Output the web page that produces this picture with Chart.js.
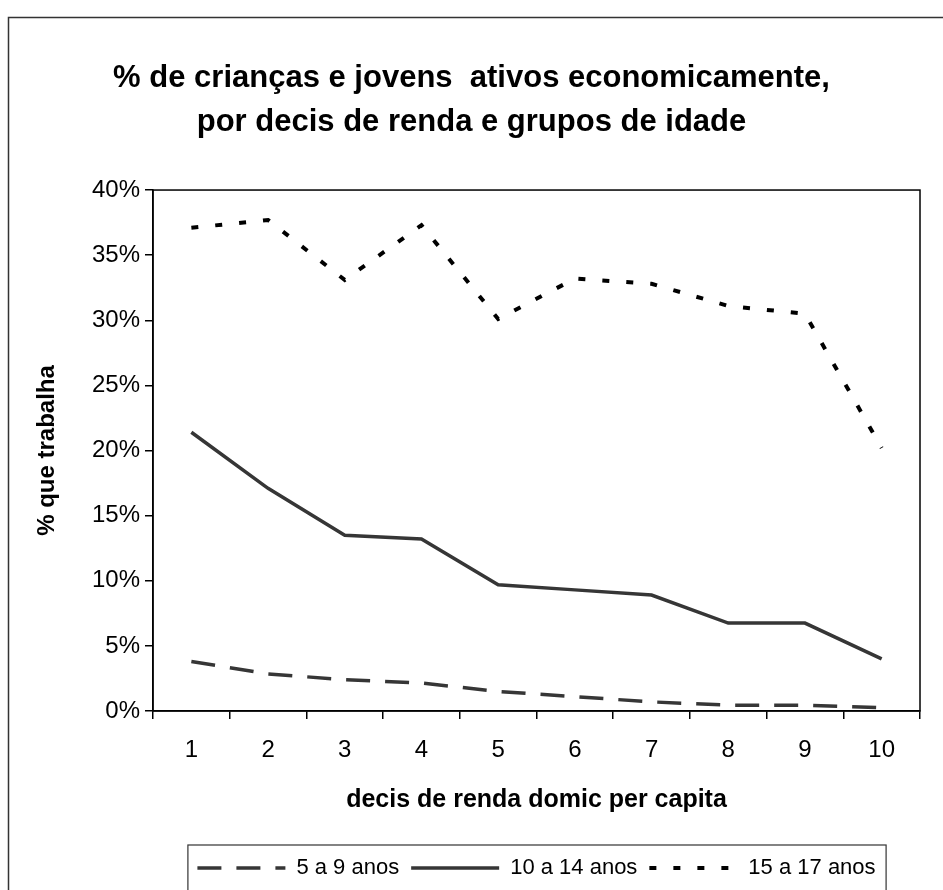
<!DOCTYPE html>
<html lang="pt">
<head>
    <meta charset="UTF-8">
    <title>Crianças e jovens ativos economicamente</title>
    <script src="https://cdn.jsdelivr.net/npm/chart.js"></script>
    <style>
        body { margin: 0; background: #fff; }
        #wrap { position: relative; width: 943px; height: 890px; }
    </style>
</head>
<body>
    <div id="wrap"><canvas id="grafico"></canvas></div>

    <script>
        // decis de renda domiciliar per capita
        const decis = ['1', '2', '3', '4', '5', '6', '7', '8', '9', '10'];

        // % que trabalha, por grupo de idade
        const idade5a9 = [3.8, 2.85, 2.4, 2.15, 1.5, 1.1, 0.7, 0.45, 0.45, 0.25];
        const idade10a14 = [21.4, 17.1, 13.5, 13.2, 9.7, 9.3, 8.9, 6.75, 6.75, 4.0];
        const idade15a17 = [37.1, 37.7, 33.1, 37.3, 30.1, 33.2, 32.8, 31.1, 30.5, 20.2];

        const FONTE = "'Liberation Sans', Arial, sans-serif";

        // moldura externa, caixa da área de plotagem e caixa da legenda
        const molduras = {
            id: 'molduras',
            beforeDraw(chart) {
                const ctx = chart.ctx;
                ctx.save();
                ctx.strokeStyle = '#333';
                ctx.lineWidth = 1.5;
                ctx.beginPath();
                ctx.moveTo(8.5, chart.height);
                ctx.lineTo(8.5, 17.5);
                ctx.lineTo(chart.width, 17.5);
                ctx.stroke();
                ctx.restore();
            },
            afterDraw(chart) {
                const ctx = chart.ctx;
                const a = chart.chartArea;
                ctx.save();
                ctx.strokeStyle = '#000';
                ctx.lineWidth = 1.5;
                ctx.strokeRect(a.left, a.top, a.right - a.left, a.bottom - a.top);

                const hb = chart.legend.legendHitBoxes;
                if (hb && hb.length) {
                    const first = hb[0];
                    const last = hb[hb.length - 1];
                    const cy = first.top + first.height / 2;
                    ctx.strokeStyle = '#333';
                    ctx.lineWidth = 1.2;
                    ctx.strokeRect(first.left - 9.5, cy - 23, last.left + last.width - first.left + 20, 46);
                }
                ctx.restore();
            }
        };

        // amostras da legenda com o mesmo tracejado das séries
        function rotulosLegenda(chart) {
            const itens = Chart.defaults.plugins.legend.labels.generateLabels(chart);
            return itens.map((item) => {
                const ds = chart.data.datasets[item.datasetIndex];
                item.lineDash = ds.borderDash || [];
                item.lineWidth = ds.borderWidth;
                item.strokeStyle = ds.borderColor;
                item.lineCap = 'butt';
                return item;
            });
        }

        const ctx = document.getElementById('grafico').getContext('2d');
        new Chart(ctx, {
            type: 'line',
            data: {
                labels: decis,
                datasets: [
                    {
                        label: '5 a 9 anos',
                        data: idade5a9,
                        borderColor: '#363636',
                        borderWidth: 3.5,
                        borderDash: [24, 15],
                    },
                    {
                        label: '10 a 14 anos',
                        data: idade10a14,
                        borderColor: '#363636',
                        borderWidth: 3.5,
                    },
                    {
                        label: '15 a 17 anos',
                        data: idade15a17,
                        borderColor: '#000',
                        borderWidth: 4,
                        borderDash: [7, 17],
                    }
                ]
            },
            options: {
                responsive: true,
                maintainAspectRatio: false,
                animation: false,
                layout: { padding: { top: 0, left: 0, right: 0, bottom: 1 } },
                elements: {
                    point: { radius: 0, hoverRadius: 0 },
                    line: { tension: 0, borderCapStyle: 'butt', fill: false }
                },
                scales: {
                    x: {
                        offset: true,
                        grid: {
                            offset: true,
                            drawOnChartArea: false,
                            drawTicks: true,
                            tickLength: 8,
                            color: '#000',
                            lineWidth: 1.5
                        },
                        border: { display: true, color: '#000', width: 1.5 },
                        ticks: {
                            color: '#000',
                            padding: 17,
                            maxRotation: 0,
                            font: { family: FONTE, size: 24 }
                        },
                        title: {
                            display: true,
                            text: 'decis de renda domic per capita',
                            color: '#000',
                            font: { family: FONTE, size: 25, weight: 'bold' },
                            padding: { top: 4, bottom: 30 }
                        },
                        afterFit(scale) { scale.height = 134; }
                    },
                    y: {
                        min: 0,
                        max: 40,
                        grid: {
                            drawOnChartArea: false,
                            drawTicks: true,
                            tickLength: 8,
                            color: '#000',
                            lineWidth: 1.5
                        },
                        border: { display: true, color: '#000', width: 1.5 },
                        ticks: {
                            stepSize: 5,
                            color: '#000',
                            padding: 5,
                            font: { family: FONTE, size: 24 },
                            callback: (v) => v + '%'
                        },
                        title: {
                            display: true,
                            text: '% que trabalha',
                            color: '#000',
                            font: { family: FONTE, size: 24, weight: 'bold' },
                            padding: { top: 33, bottom: 4 }
                        },
                        afterFit(scale) { scale.width = 153; }
                    },
                    // espaço à direita da área de plotagem
                    margemDireita: {
                        type: 'linear',
                        position: 'right',
                        display: true,
                        grid: { display: false },
                        border: { display: false },
                        ticks: { display: false },
                        afterFit(scale) { scale.width = 23; }
                    }
                },
                plugins: {
                    title: {
                        display: true,
                        text: ['% de crianças e jovens  ativos economicamente,', 'por decis de renda e grupos de idade'],
                        color: '#000',
                        font: { family: FONTE, size: 31, weight: 'bold', lineHeight: 1.42 },
                        padding: { top: 56, bottom: 46 }
                    },
                    legend: {
                        display: true,
                        position: 'bottom',
                        fullSize: false,
                        labels: {
                            color: '#000',
                            font: { family: FONTE, size: 22 },
                            usePointStyle: true,
                            pointStyle: 'line',
                            pointStyleWidth: 88,
                            padding: 12,
                            generateLabels: rotulosLegenda
                        }
                    },
                    tooltip: { enabled: false }
                }
            },
            plugins: [molduras]
        });
    </script>
</body>
</html>
